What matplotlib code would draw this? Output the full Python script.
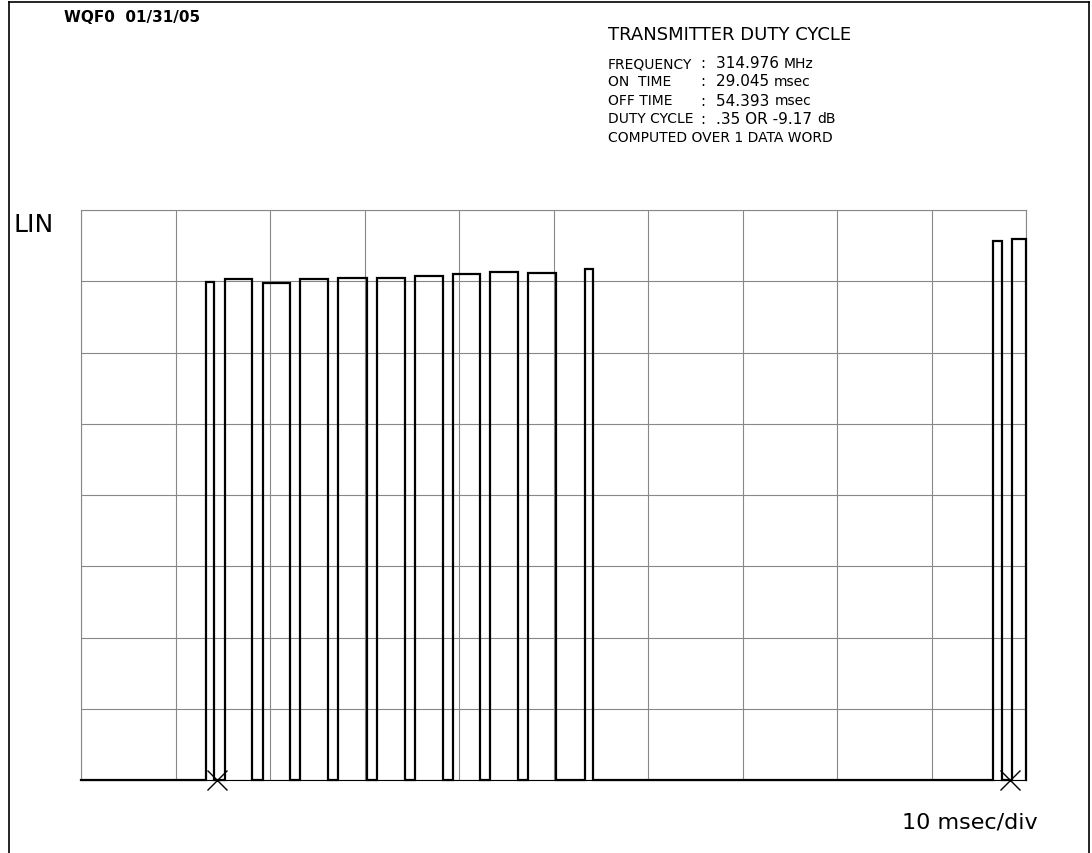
import numpy as np
import matplotlib.pyplot as plt
from matplotlib.lines import Line2D

# pulse edges in msec (10 msec/div, 10 divisions) and pulse levels in divisions
rise_ms = [13.2, 15.2, 19.3, 23.2, 27.2, 31.3, 35.3, 39.4, 43.3, 47.3, 53.3, 96.5, 98.5]
fall_ms = [14.1, 18.1, 22.1, 26.1, 30.3, 34.3, 38.3, 42.2, 46.2, 50.3, 54.2, 97.5, 100.0]
level_div = [6.99, 7.03, 6.98, 7.03, 7.05, 7.05, 7.07, 7.10, 7.13, 7.12, 7.17, 7.56, 7.59]
marker_ms = [14.4, 98.3]

header_labels = ['FREQUENCY', 'ON  TIME', 'OFF TIME', 'DUTY CYCLE', 'COMPUTED OVER 1 DATA WORD']
header_nums = ['314.976', '29.045', '54.393', '.35 OR -9.17', '']
header_units = ['MHz', 'msec', 'msec', 'dB', '']

plt.rcParams['font.family'] = ['DejaVu Sans']

fig = plt.figure(figsize=(10.92, 8.54), dpi=100)
ax = fig.add_axes([81 / 1092, 73 / 854, 945 / 1092, 570 / 854])

# build the step trace from the edge lists
xs, ys = [0.0], [0.0]
for r, f, lv in zip(rise_ms, fall_ms, level_div):
    xs += [r, r, f, f]
    ys += [0.0, lv, lv, 0.0]
if xs[-1] < 100:
    xs.append(100.0)
    ys.append(0.0)
ax.plot(xs, ys, color='black', lw=1.6, solid_joinstyle='miter', zorder=3, clip_on=False)

ax.plot(marker_ms, [0, 0], linestyle='none', marker='x', ms=14, mew=1.0,
        color='black', zorder=4, clip_on=False)

ax.set_xlim(0, 100)
ax.set_ylim(0, 8)
ax.set_xticks(np.arange(0, 101, 10))
ax.set_yticks(np.arange(0, 9, 1))
ax.grid(True, color='#888888', lw=0.8)
ax.tick_params(length=0, labelbottom=False, labelleft=False)
for s in ax.spines.values():
    s.set_color('#888888')
    s.set_linewidth(0.8)
ax.spines['bottom'].set_color('black')

# outer frame of the printout
for xy in [([9, 1089], [851, 851]), ([9, 9], [0, 851]), ([1089, 1089], [0, 851])]:
    fig.add_artist(Line2D(np.array(xy[0]) / 1092, np.array(xy[1]) / 854,
                          color='black', lw=1.2))

def fx(px):
    return px / 1092

def fy(py):
    return 1 - py / 854

fig.text(fx(64), fy(17), 'WQF0  01/31/05', fontsize=11, va='center', weight='bold')
fig.text(fx(608), fy(35), 'TRANSMITTER DUTY CYCLE', fontsize=13, va='center')
row_y = [64, 82, 101, 119, 138]
for lab, num, unit, yy in zip(header_labels, header_nums, header_units, row_y):
    fig.text(fx(608), fy(yy), lab, fontsize=10, va='center')
    if num:
        fig.text(fx(700), fy(yy), ':', fontsize=10.5, va='center')
        t = fig.text(fx(716), fy(yy), num + ' ', fontsize=11, va='center')
        fig.canvas.draw()
        bb = t.get_window_extent()
        fig.text(bb.x1 / 1092, fy(yy), unit, fontsize=10, va='center')

fig.text(fx(13), fy(225), 'LIN', fontsize=18, va='center')
fig.text(fx(902), fy(823), '10 msec/div', fontsize=16, va='center')

fig.savefig('out.png', dpi=100)
